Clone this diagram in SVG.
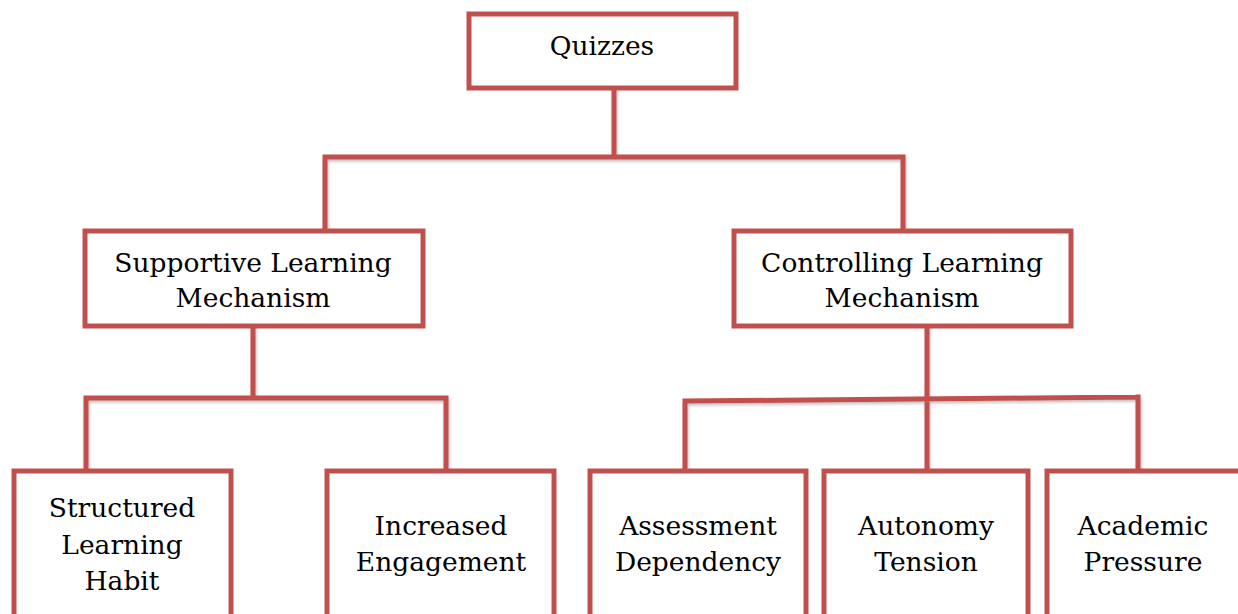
<svg xmlns="http://www.w3.org/2000/svg" width="1238" height="614" viewBox="0 0 1238 614">
<defs>
<filter id="sh" x="-5%" y="-5%" width="110%" height="110%">
<feDropShadow dx="1" dy="2" stdDeviation="1.5" flood-color="#000" flood-opacity="0.25"/>
</filter>
</defs>
<style>
.box{fill:#fff;stroke:#C0504D;stroke-width:5;}
.ln{fill:none;stroke:#C0504D;stroke-width:5;stroke-linecap:square;}
text{font-family:"DejaVu Serif","Liberation Serif",serif;font-size:26.5px;fill:#000;text-anchor:middle;}
</style>
<rect width="1238" height="614" fill="#fff"/>
<g id="connectors" filter="url(#sh)">
<path class="ln" d="M614 88 V157 M325 157 H903 M325 157 V231 M903 157 V231"/>
<path class="ln" d="M253 326 V398 M86 398 H446 M86 398 V470 M446 398 V470"/>
<path class="ln" d="M927 326 V470 M685 401 L1138 397 M685 401 V470 M1138 397 V468"/>
</g>
<g id="quizzes"><rect class="box" x="469" y="14" width="267" height="74"/><text x="602" y="55">Quizzes</text></g>
<g id="supportive"><rect class="box" x="85" y="231" width="338" height="95"/><text x="253" y="272">Supportive Learning</text><text x="253" y="307">Mechanism</text></g>
<g id="controlling"><rect class="box" x="734" y="231" width="337" height="95"/><text x="902" y="272">Controlling Learning</text><text x="902" y="307">Mechanism</text></g>
<g id="structured"><rect class="box" x="14" y="471" width="217" height="150"/><text x="122" y="517">Structured</text><text x="122" y="554">Learning</text><text x="122" y="590">Habit</text></g>
<g id="engagement"><rect class="box" x="327" y="471" width="227" height="150"/><text x="441" y="535">Increased</text><text x="441" y="571">Engagement</text></g>
<g id="assessment"><rect class="box" x="590" y="471" width="216" height="150"/><text x="698" y="535">Assessment</text><text x="698" y="571">Dependency</text></g>
<g id="autonomy"><rect class="box" x="824" y="471" width="204" height="150"/><text x="926" y="535">Autonomy</text><text x="926" y="571">Tension</text></g>
<g id="academic"><rect class="box" x="1047" y="471" width="200" height="150"/><text x="1143" y="535">Academic</text><text x="1143" y="571">Pressure</text></g>
</svg>
